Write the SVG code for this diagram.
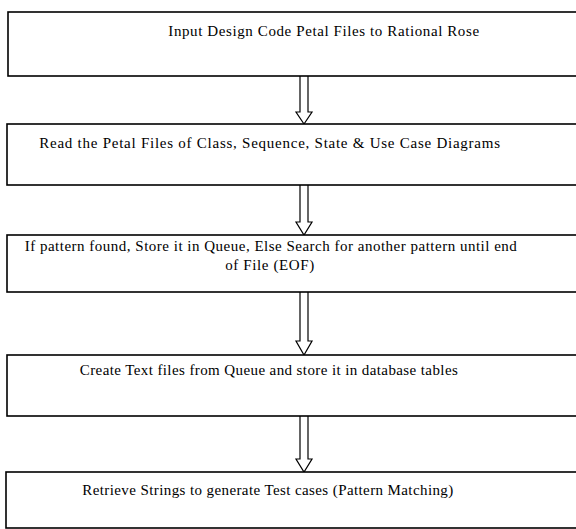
<svg xmlns="http://www.w3.org/2000/svg" width="576" height="529" viewBox="0 0 576 529">
<style>
.box{fill:#fff;stroke:#000;stroke-width:1.6}
.arr{fill:#fff;stroke:#000;stroke-width:1.2;stroke-linejoin:miter}
text{font-family:"Liberation Serif","Times New Roman",serif;font-size:15px;fill:#000;text-anchor:middle;letter-spacing:0.6px}
.tight{letter-spacing:0.4px}
</style>
<rect width="576" height="529" fill="#fff"/>
<g id="connectors">
<path class="arr" d="M300,76 V112 H296 L304,124 L312,112 H308 V76"/>
<path class="arr" d="M300,185 V222 H296 L304,235 L312,222 H308 V185"/>
<path class="arr" d="M300,292 V341 H296 L304,355 L312,341 H308 V292"/>
<path class="arr" d="M300,416 V459 H296 L304,472 L312,459 H308 V416"/>
</g>
<g id="node1">
<rect class="box" x="8" y="12" width="600" height="64"/>
<text x="324" y="36">Input Design Code Petal Files to Rational Rose</text>
</g>
<g id="node2">
<rect class="box" x="7" y="124" width="600" height="61"/>
<text x="270" y="148" style="letter-spacing:0.75px">Read the Petal Files of Class, Sequence, State &amp; Use Case Diagrams</text>
</g>
<g id="node3">
<rect class="box" x="7" y="235" width="600" height="57"/>
<text x="271" y="251" style="letter-spacing:0.5px">If pattern found, Store it in Queue, Else Search for another pattern until end</text>
<text x="270" y="270">of File (EOF)</text>
</g>
<g id="node4">
<rect class="box" x="7" y="355" width="600" height="61"/>
<text class="tight" x="269" y="375">Create Text files from Queue and store it in database tables</text>
</g>
<g id="node5">
<rect class="box" x="6" y="472" width="600" height="56"/>
<text class="tight" x="268" y="495">Retrieve Strings to generate Test cases (Pattern Matching)</text>
</g>
</svg>
